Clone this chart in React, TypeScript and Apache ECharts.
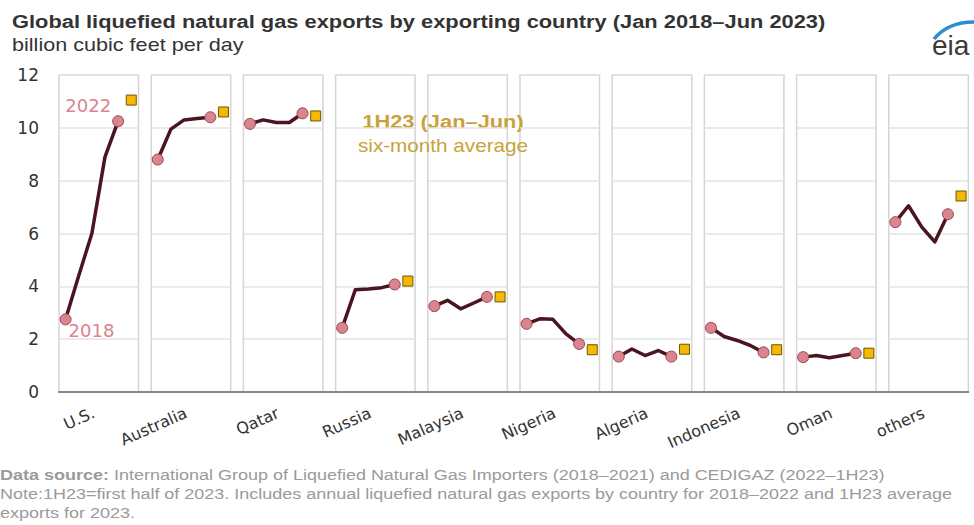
import React, { useEffect, useRef } from 'react';
import * as echarts from 'echarts';

// Exporting countries, left to right
const COUNTRIES = ['U.S.', 'Australia', 'Qatar', 'Russia', 'Malaysia', 'Nigeria', 'Algeria', 'Indonesia', 'Oman', 'others'];
const YEARS = ['2018', '2019', '2020', '2021', '2022'];

// Annual LNG exports 2018–2022, billion cubic feet per day
const US = [2.75, 4.4, 6.0, 8.9, 10.25];
const AUSTRALIA = [8.8, 9.95, 10.3, 10.35, 10.4];
const QATAR = [10.15, 10.3, 10.2, 10.2, 10.55];
const RUSSIA = [2.43, 3.87, 3.9, 3.95, 4.07];
const MALAYSIA = [3.25, 3.47, 3.15, 3.37, 3.6];
const NIGERIA = [2.58, 2.77, 2.75, 2.2, 1.82];
const ALGERIA = [1.34, 1.63, 1.38, 1.57, 1.34];
const INDONESIA = [2.43, 2.1, 1.95, 1.76, 1.5];
const OMAN = [1.32, 1.38, 1.3, 1.38, 1.47];
const OTHERS = [6.43, 7.05, 6.25, 5.68, 6.73];
const ANNUAL = [US, AUSTRALIA, QATAR, RUSSIA, MALAYSIA, NIGERIA, ALGERIA, INDONESIA, OMAN, OTHERS];

// First half of 2023, six-month average
const FIRST_HALF_2023 = [11.05, 10.6, 10.45, 4.2, 3.6, 1.6, 1.62, 1.6, 1.47, 7.42];

const Y_MIN = 0;
const Y_MAX = 12;
const Y_STEP = 2;

const TITLE = 'Global liquefied natural gas exports by exporting country (Jan 2018\u2013Jun 2023)';
const SUBTITLE = 'billion cubic feet per day';
const SOURCE_1 = '{b|Data source:} International Group of Liquefied Natural Gas Importers (2018\u20132021) and CEDIGAZ (2022\u20131H23)';
const SOURCE_2 = 'Note:1H23=first half of 2023. Includes annual liquefied natural gas exports by country for 2018\u20132022 and 1H23 average';
const SOURCE_3 = 'exports for 2023.';

// Panel layout (pixels)
const PLOT_LEFT = 59;
const PLOT_TOP = 75;
const PLOT_HEIGHT = 317;
const GROUP_W = 92.2;
const PANEL_W = 79.5;
const NAME_SHIFT = -5;

const LINE_COLOR = '#4a1420';
const DOT_FILL = '#d9848f';
const DOT_BORDER = '#9a4753';
const SQUARE_FILL = '#f6b900';
const SQUARE_BORDER = '#6e5600';
const NOTE_GOLD = '#c9a23c';
const SOURCE_GREY = '#9a9a9a';
const SANS = '"Liberation Sans", Arial, sans-serif';
const AXIS_FONT = '"DejaVu Sans", sans-serif';

function buildOption() {
  const n = COUNTRIES.length;
  const grid: any[] = [];
  const xAxis: any[] = [];
  const yAxis: any[] = [];
  const series: any[] = [];

  for (let i = 0; i < n; i++) {
    grid.push({
      left: PLOT_LEFT + GROUP_W * i,
      top: PLOT_TOP,
      width: PANEL_W,
      height: PLOT_HEIGHT,
      show: true,
      borderColor: '#d5d5d5',
      borderWidth: 1.5,
      backgroundColor: 'transparent',
    });
    xAxis.push({ gridIndex: i, type: 'value', min: -0.5, max: 5.55, show: false });
    yAxis.push({
      gridIndex: i,
      type: 'value',
      min: Y_MIN,
      max: Y_MAX,
      interval: Y_STEP,
      axisLine: { show: false },
      axisTick: { show: false },
      axisLabel: {
        show: i === 0,
        margin: 20,
        fontSize: 17,
        fontFamily: AXIS_FONT,
        color: '#333',
      },
      splitLine: { lineStyle: { color: '#e3e3e3', width: 1.5 } },
    });

    const values = ANNUAL[i];
    const last = values.length - 1;
    series.push({
      type: 'line',
      xAxisIndex: i,
      yAxisIndex: i,
      showAllSymbol: true,
      symbol: 'circle',
      symbolSize: 11,
      itemStyle: { color: DOT_FILL, borderColor: DOT_BORDER, borderWidth: 1 },
      lineStyle: { color: LINE_COLOR, width: 3.5, join: 'round', cap: 'round' },
      z: 3,
      data: values.map((v, k) => {
        const item: any = { value: [k, v] };
        if (k !== 0 && k !== last) item.symbol = 'none';
        if (i === 0 && k === 0) {
          item.label = {
            show: true,
            formatter: YEARS[0],
            position: 'right',
            offset: [-8, 11],
            fontSize: 18,
            fontFamily: AXIS_FONT,
            color: DOT_FILL,
          };
        }
        if (i === 0 && k === last) {
          item.label = {
            show: true,
            formatter: YEARS[last],
            position: 'left',
            offset: [4, -16],
            fontSize: 18,
            fontFamily: AXIS_FONT,
            color: DOT_FILL,
          };
        }
        return item;
      }),
    });
    series.push({
      type: 'scatter',
      xAxisIndex: i,
      yAxisIndex: i,
      symbol: 'rect',
      symbolSize: 10,
      itemStyle: { color: SQUARE_FILL, borderColor: SQUARE_BORDER, borderWidth: 1, opacity: 1 },
      z: 4,
      data: [[values.length, FIRST_HALF_2023[i]]],
    });
  }

  // category axis carrying the country names, one cell per panel
  const labelGrid = n;
  grid.push({
    left: PLOT_LEFT + PANEL_W / 2 - GROUP_W / 2 + NAME_SHIFT,
    top: PLOT_TOP,
    width: GROUP_W * n,
    height: PLOT_HEIGHT,
  });
  xAxis.push({
    gridIndex: labelGrid,
    type: 'category',
    data: COUNTRIES,
    axisLine: { show: false },
    axisTick: { show: false },
    splitLine: { show: false },
    axisLabel: {
      rotate: 24,
      margin: 20,
      fontSize: 16,
      fontFamily: AXIS_FONT,
      color: '#333',
      interval: 0,
    },
  });
  yAxis.push({ gridIndex: labelGrid, type: 'value', min: Y_MIN, max: Y_MAX, show: false });

  // continuous base line under all panels
  const baseGrid = n + 1;
  grid.push({
    left: PLOT_LEFT,
    top: PLOT_TOP,
    width: GROUP_W * (n - 1) + PANEL_W,
    height: PLOT_HEIGHT,
  });
  xAxis.push({
    gridIndex: baseGrid,
    type: 'value',
    min: 0,
    max: 1,
    axisLine: { show: true, lineStyle: { color: '#8a8a8a', width: 2 } },
    axisTick: { show: false },
    axisLabel: { show: false },
    splitLine: { show: false },
  });
  yAxis.push({ gridIndex: baseGrid, type: 'value', min: Y_MIN, max: Y_MAX, show: false });

  const sourceLine = (text: string, y: number) => ({
    type: 'text',
    x: 0,
    y,
    scaleX: 1.2,
    style: {
      text,
      fontSize: 15,
      fontFamily: SANS,
      fill: SOURCE_GREY,
      align: 'left',
      verticalAlign: 'middle',
      rich: { b: { fontSize: 15, fontFamily: SANS, fontWeight: 'bold', fill: SOURCE_GREY } },
    },
  });

  const graphic: any[] = [
    {
      type: 'text',
      x: 12,
      y: 21.5,
      scaleX: 1.15,
      style: { text: TITLE, fontSize: 19, fontWeight: 'bold', fontFamily: SANS, fill: '#333', align: 'left', verticalAlign: 'middle' },
    },
    {
      type: 'text',
      x: 12,
      y: 45,
      scaleX: 1.2,
      style: { text: SUBTITLE, fontSize: 18, fontFamily: SANS, fill: '#333', align: 'left', verticalAlign: 'middle' },
    },
    {
      type: 'text',
      x: 443,
      y: 121,
      scaleX: 1.15,
      style: { text: '1H23 (Jan\u2013Jun)', fontSize: 19, fontWeight: 'bold', fontFamily: SANS, fill: NOTE_GOLD, align: 'center', verticalAlign: 'middle' },
    },
    {
      type: 'text',
      x: 443,
      y: 146,
      scaleX: 1.15,
      style: { text: 'six-month average', fontSize: 18, fontFamily: SANS, fill: NOTE_GOLD, align: 'center', verticalAlign: 'middle' },
    },
    sourceLine(SOURCE_1, 475),
    sourceLine(SOURCE_2, 494),
    sourceLine(SOURCE_3, 513),
    // eia logo
    {
      type: 'bezierCurve',
      shape: { x1: 934, y1: 39, cpx1: 948, cpy1: 22, x2: 974, y2: 22 },
      style: { stroke: '#2b8fd1', lineWidth: 3.5, fill: null },
    },
    {
      type: 'text',
      x: 932,
      y: 45,
      style: { text: 'eia', fontSize: 28, fontFamily: SANS, fill: '#3a3a3a', align: 'left', verticalAlign: 'middle' },
    },
  ];

  return {
    animation: false,
    backgroundColor: '#ffffff',
    grid,
    xAxis,
    yAxis,
    series,
    graphic,
  };
}

export default function App() {
  const ref = useRef<HTMLDivElement | null>(null);

  useEffect(() => {
    if (!ref.current) return;
    const chart = echarts.init(ref.current, undefined, { renderer: 'svg' });
    chart.setOption(buildOption());
    return () => chart.dispose();
  }, []);

  return (
    <div
      ref={ref}
      style={{ position: 'fixed', left: 0, top: 0, width: 974, height: 525, background: '#fff' }}
    />
  );
}
